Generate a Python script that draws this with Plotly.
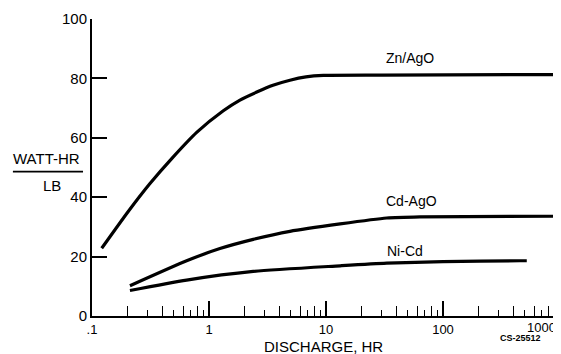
import numpy as np
import plotly.graph_objects as go

# ---- data ----
zn_x = [0.121, 0.204, 0.313, 0.48, 0.789, 1.325, 1.84, 2.56, 3.52, 4.92, 6.74, 9.49, 30, 955]
zn_y = [22.8, 35.2, 44.6, 53.0, 61.9, 69.1, 72.7, 75.4, 77.7, 79.4, 80.5, 81.0, 81.1, 81.3]

cd_x = [0.211, 0.644, 1.24, 2.39, 4.92, 13.2, 33, 63.5, 955]
cd_y = [10.2, 18.6, 22.7, 25.8, 28.5, 31.0, 33.0, 33.4, 33.6]

ni_x = [0.211, 0.644, 2.39, 13.2, 33, 100, 455, 520]
ni_y = [8.6, 12.1, 15.0, 16.9, 17.8, 18.3, 18.6, 18.6]

series_names = ["Zn/AgO", "Cd-AgO", "Ni-Cd"]
label_x = [52.3, 54.3, 47.3]
label_y = [86.9, 38.7, 22.0]

y_ticks = [0, 20, 40, 60, 80, 100]
x_major = [0.1, 1, 10, 100, 1000]
x_major_text = [".1", "1", "10", "100", ""]
x_minor_all = [m * 10.0 ** e for e in range(-1, 3) for m in range(2, 10)]
x_minor_even = [m * 10.0 ** e for e in range(-1, 3) for m in (2, 4, 6, 8)]

FONT = "Liberation Sans, Arial, sans-serif"

fig = go.Figure()
for xs, ys in [(zn_x, zn_y), (cd_x, cd_y), (ni_x, ni_y)]:
    fig.add_trace(go.Scatter(x=xs, y=ys, mode="lines",
                             line=dict(color="black", width=3.2, shape="spline", smoothing=0.6),
                             showlegend=False, hoverinfo="skip"))

# invisible trace on second x axis carrying longer even minor ticks
fig.add_trace(go.Scatter(x=[1], y=[-10], xaxis="x2", mode="markers",
                         marker=dict(opacity=0), showlegend=False, hoverinfo="skip"))

# page body has an 8px margin, so the figure is 8px smaller and margins shifted
fig.update_layout(
    width=553, height=346,
    margin=dict(l=84, r=1, t=11, b=38),
    paper_bgcolor="white", plot_bgcolor="white",
    font=dict(family=FONT, color="black"),
    xaxis=dict(type="log", range=[-1, 3], showgrid=False, zeroline=False,
               showline=True, linecolor="black", linewidth=2,
               tickmode="array", tickvals=x_major, ticktext=x_major_text,
               ticks="inside", ticklen=15, tickwidth=1.5, tickcolor="black",
               tickfont=dict(size=13),
               minor=dict(tickmode="array", tickvals=x_minor_all, ticks="inside",
                          ticklen=6, tickwidth=1.3, tickcolor="black")),
    xaxis2=dict(type="log", range=[-1, 3], overlaying="x", side="bottom",
                showgrid=False, zeroline=False, showline=False,
                tickmode="array", tickvals=x_minor_even, showticklabels=False,
                ticks="inside", ticklen=10, tickwidth=1.3, tickcolor="black"),
    yaxis=dict(range=[0, 100], showgrid=False, zeroline=False,
               showline=True, linecolor="black", linewidth=2,
               tickmode="array", tickvals=y_ticks,
               ticks="inside", ticklen=15, tickwidth=1.5, tickcolor="black",
               tickfont=dict(size=15)),
)

for name, lx, ly in zip(series_names, label_x, label_y):
    fig.add_annotation(x=np.log10(lx), y=ly, text=name, showarrow=False,
                       font=dict(size=14), xanchor="center", yanchor="middle")

fig.add_annotation(x=3, y=-0.040, yref="paper", text="1000", showarrow=False,
                   xanchor="right", xshift=-2, yanchor="middle", font=dict(size=13))
fig.add_annotation(x=0.494, y=-0.104, xref="paper", yref="paper", text="DISCHARGE, HR",
                   showarrow=False, xanchor="center", yanchor="middle", font=dict(size=15))
fig.add_annotation(x=0.915, y=-0.074, xref="paper", yref="paper", text="<b>CS-25512</b>",
                   showarrow=False, xanchor="center", yanchor="middle", font=dict(size=9))
fig.add_annotation(x=-0.0962, y=0.529, xref="paper", yref="paper", text="WATT-HR",
                   showarrow=False, xanchor="center", yanchor="middle", font=dict(size=15))
fig.add_annotation(x=-0.0855, y=0.441, xref="paper", yref="paper", text="LB",
                   showarrow=False, xanchor="center", yanchor="middle", font=dict(size=15))
fig.add_shape(type="line", xref="paper", yref="paper", x0=-0.169, x1=-0.0192,
              y0=0.486, y1=0.486, line=dict(color="black", width=1.8))

fig.write_html("out.html")
